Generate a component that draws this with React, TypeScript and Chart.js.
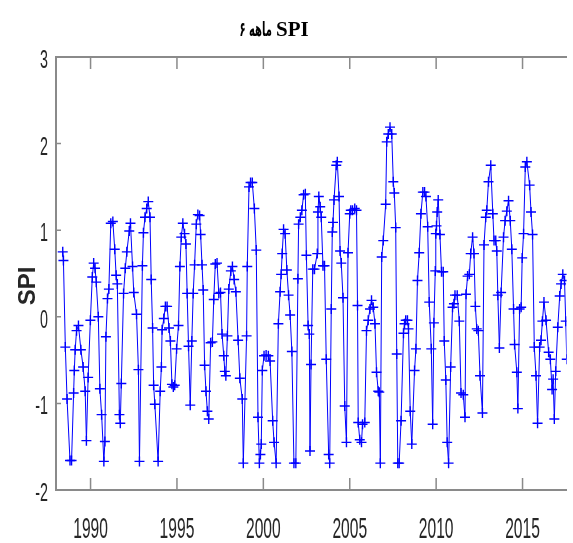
import React, { useEffect, useRef } from "react";
import { Chart, registerables } from "chart.js";

Chart.register(...registerables);

// ---- text ----
const TITLE_LATIN = "SPI";
const TITLE_PERSIAN = "۶ ماهه";
const Y_TITLE = "SPI";

// ---- axes ----
const X_TICKS = [1990, 1995, 2000, 2005, 2010, 2015];
const Y_TICKS = [-2, -1, 0, 1, 2, 3];
const X_MIN = 1988;
const X_MAX = 2017.55;
const Y_MIN = -2;
const Y_MAX = 3;

// ---- 6-month SPI series: [decimal year, SPI] ----
const spi1988to1995: [number, number][] = [
  [1988.39, 0.75], [1988.43, 0.65], [1988.54, -0.35], [1988.64, -0.95], [1988.81, -1.66], [1988.9, -1.66],
  [1989.02, -0.88], [1989.06, -0.62], [1989.11, -0.38], [1989.19, -0.16], [1989.3, -0.1], [1989.44, -0.38],
  [1989.57, -0.58], [1989.69, -0.86], [1989.76, -1.43], [1989.86, -0.7], [1989.99, -0.04], [1990.1, 0.46],
  [1990.18, 0.62], [1990.26, 0.56], [1990.33, 0.4], [1990.45, 0.0], [1990.54, -0.83], [1990.64, -1.13],
  [1990.77, -1.67], [1990.83, -1.44], [1990.89, -0.23], [1990.98, 0.21], [1991.06, 0.32], [1991.17, 1.08],
  [1991.29, 1.1], [1991.4, 0.78], [1991.48, 0.48], [1991.55, 0.38], [1991.67, -1.13], [1991.72, -1.23],
  [1991.78, -0.77], [1991.91, 0.27], [1992.01, 0.56], [1992.1, 0.75], [1992.24, 0.99], [1992.31, 1.08],
  [1992.43, 0.58], [1992.5, 0.28], [1992.66, 0.03], [1992.77, -0.61], [1992.83, -1.67], [1993.0, 0.59],
  [1993.06, 0.97], [1993.15, 1.15], [1993.25, 1.25], [1993.34, 1.33], [1993.44, 1.15], [1993.51, 0.43],
  [1993.59, -0.13], [1993.65, -0.79], [1993.72, -1.01], [1993.91, -1.67], [1994.03, -0.86], [1994.1, -0.58],
  [1994.14, -0.15], [1994.24, -0.02], [1994.33, 0.12], [1994.43, 0.12], [1994.54, -0.13], [1994.62, -0.28],
  [1994.71, -0.78], [1994.79, -0.81], [1994.87, -0.79], [1994.98, -0.37], [1995.09, -0.1], [1995.17, 0.58],
  [1995.25, 0.92], [1995.34, 1.08],
];

const spi1995to2002: [number, number][] = [
  [1995.44, 0.96], [1995.52, 0.84], [1995.59, 0.27], [1995.67, -0.34], [1995.77, -1.02], [1995.86, -0.28],
  [1995.94, 0.27], [1996.02, 0.6], [1996.12, 1.07], [1996.21, 1.18], [1996.31, 1.17], [1996.37, 0.95],
  [1996.45, 0.6], [1996.52, 0.31], [1996.6, -0.56], [1996.68, -0.86], [1996.76, -1.09], [1996.84, -1.18],
  [1996.95, -0.3], [1997.05, -0.29], [1997.13, 0.2], [1997.22, 0.61], [1997.32, 0.62], [1997.42, 0.27],
  [1997.52, 0.28], [1997.61, -0.2], [1997.71, -0.45], [1997.77, -0.63], [1997.83, -0.68], [1997.92, -0.22],
  [1998.0, 0.32], [1998.12, 0.53], [1998.21, 0.58], [1998.31, 0.43], [1998.41, 0.29], [1998.54, -0.27],
  [1998.64, -0.71], [1998.78, -0.95], [1998.84, -1.69], [1999.03, -0.22], [1999.07, 0.58], [1999.17, 1.5],
  [1999.26, 1.55], [1999.36, 1.55], [1999.48, 1.25], [1999.59, 0.77], [1999.69, -1.16], [1999.77, -1.69],
  [1999.83, -1.59], [1999.88, -1.47], [1999.94, -0.62], [2000.04, -0.45], [2000.16, -0.44], [2000.29, -0.45],
  [2000.39, -0.51], [2000.54, -1.2], [2000.62, -1.45], [2000.74, -1.69], [2000.87, -0.08], [2000.97, 0.29],
  [2001.03, 0.49], [2001.09, 0.73], [2001.17, 1.01], [2001.26, 0.96], [2001.36, 0.54], [2001.46, 0.25],
  [2001.55, 0.02], [2001.65, -0.4], [2001.77, -1.69], [2001.88, -1.69], [2002.0, 0.44], [2002.04, 1.07],
  [2002.14, 1.15], [2002.23, 1.23], [2002.33, 1.41], [2002.43, 1.42], [2002.49, 0.71], [2002.59, -0.1],
  [2002.66, -0.2],
];

const spi2002to2010: [number, number][] = [
  [2002.7, -1.55], [2002.76, -0.55], [2002.86, 0.55], [2002.96, 0.55], [2003.12, 0.73], [2003.16, 1.21],
  [2003.21, 1.39], [2003.29, 1.27], [2003.35, 1.15], [2003.45, 0.59], [2003.54, 0.59], [2003.64, -0.49],
  [2003.78, -1.59], [2003.84, -1.69], [2003.93, 0.09], [2003.99, 0.98], [2004.03, 1.09], [2004.09, 1.35],
  [2004.22, 1.75], [2004.28, 1.79], [2004.38, 1.39], [2004.44, 0.76], [2004.51, 0.62], [2004.61, 0.22],
  [2004.71, -1.03], [2004.81, -1.45], [2004.9, 0.74], [2005.0, 1.19], [2005.06, 1.23], [2005.16, 1.23],
  [2005.29, 1.25], [2005.39, 1.23], [2005.45, 0.13], [2005.49, -1.22], [2005.58, -1.42], [2005.68, -1.45],
  [2005.74, -1.24], [2005.87, -1.22], [2005.97, -0.16], [2006.07, -0.04], [2006.17, 0.09], [2006.26, 0.19],
  [2006.36, 0.11], [2006.46, -0.08], [2006.55, -0.64], [2006.65, -0.86], [2006.71, -0.87], [2006.77, -1.69],
  [2006.85, 0.69], [2006.94, 0.88], [2007.08, 1.3], [2007.14, 2.02], [2007.23, 2.11], [2007.33, 2.19],
  [2007.43, 2.11], [2007.52, 1.56], [2007.58, 1.43], [2007.66, 1.03], [2007.72, -0.43], [2007.78, -1.69],
  [2007.86, -1.69], [2007.97, -1.2], [2008.11, -0.19], [2008.17, -0.08], [2008.24, -0.04], [2008.34, -0.04],
  [2008.4, -0.14], [2008.5, -1.09], [2008.59, -1.47], [2008.75, -0.62], [2008.83, -0.37], [2008.92, 0.42],
  [2009.02, 0.74], [2009.12, 1.19], [2009.23, 1.44], [2009.33, 1.44], [2009.41, 1.39], [2009.51, 1.04],
  [2009.6, 0.17], [2009.72, -0.37], [2009.8, -1.24], [2009.87, -0.07], [2009.95, 0.53],
];

const spi2010to2017: [number, number][] = [
  [2009.98, 0.96], [2010.02, 1.05], [2010.06, 1.21], [2010.12, 1.35], [2010.22, 0.95], [2010.31, 0.52],
  [2010.41, 0.52], [2010.47, -0.28], [2010.56, -0.73], [2010.64, -1.45], [2010.72, -1.69], [2010.84, -0.58],
  [2010.95, 0.11], [2011.03, 0.15], [2011.09, 0.25], [2011.22, 0.25], [2011.34, -0.05], [2011.44, -0.88],
  [2011.57, -0.9], [2011.67, -1.16], [2011.73, 0.26], [2011.82, 0.47], [2011.92, 0.49], [2012.0, 0.73],
  [2012.11, 0.92], [2012.19, 0.73], [2012.27, 0.12], [2012.35, -0.14], [2012.44, -0.16], [2012.54, -0.68],
  [2012.68, -1.11], [2012.77, 0.83], [2012.87, 1.15], [2012.93, 1.23], [2013.03, 1.56], [2013.16, 1.75],
  [2013.28, 1.19], [2013.35, 0.88], [2013.45, 0.88], [2013.51, 0.76], [2013.57, 0.25], [2013.66, -0.36],
  [2013.76, 0.28], [2013.9, 0.92], [2013.99, 1.11], [2014.09, 1.22], [2014.19, 1.34], [2014.29, 1.11],
  [2014.38, 0.78], [2014.48, 0.09], [2014.54, -0.32], [2014.67, -0.64], [2014.73, -1.06], [2014.83, 0.09],
  [2014.92, 0.11], [2014.98, 0.68], [2015.06, 0.96], [2015.16, 1.73], [2015.25, 1.79], [2015.41, 1.52],
  [2015.49, 1.21], [2015.58, 0.95], [2015.68, -0.35], [2015.78, -0.68], [2015.87, -1.23], [2015.99, -0.35],
  [2016.07, -0.27], [2016.15, -0.05], [2016.24, 0.17], [2016.36, -0.04], [2016.51, -0.41], [2016.61, -0.49],
  [2016.71, -0.84], [2016.77, -0.72], [2016.84, -1.18], [2016.92, -0.63], [2017.04, -0.12], [2017.15, 0.24],
  [2017.23, 0.38], [2017.33, 0.49], [2017.43, 0.42], [2017.5, -0.05], [2017.56, -0.49], [2017.65, -0.55],
];

// ---- styles ----
const AXIS_GRAY = "#8a8a8a";
const LABEL_COLOR = "#262626";
const LINE_BLUE = "#0000ff";
const TICK_FAMILY = '"Liberation Sans", Arial, sans-serif';

function drawCondensed(ctx: any, text: string, x: number, y: number, sx: number, align: string) {
  ctx.save();
  ctx.translate(x, y);
  ctx.scale(sx, 1);
  ctx.textAlign = align;
  ctx.fillText(text, 0, 0);
  ctx.restore();
}

const decorPlugin = {
  id: "decor",
  afterDraw(chart: any) {
    const { ctx, chartArea, scales } = chart;
    const xs = scales.x;
    const ys = scales.y;
    ctx.save();
    // inward tick marks
    ctx.strokeStyle = AXIS_GRAY;
    ctx.lineWidth = 1.5;
    ctx.beginPath();
    for (const t of xs.ticks) {
      const px = xs.getPixelForValue(t.value);
      ctx.moveTo(px, chartArea.bottom);
      ctx.lineTo(px, chartArea.bottom - 12);
      ctx.moveTo(px, chartArea.top);
      ctx.lineTo(px, chartArea.top + 12);
    }
    for (const t of ys.ticks) {
      const py = ys.getPixelForValue(t.value);
      ctx.moveTo(chartArea.left, py);
      ctx.lineTo(chartArea.left + 5, py);
    }
    ctx.stroke();

    // condensed tick labels (positions from the scales)
    ctx.fillStyle = LABEL_COLOR;
    ctx.textBaseline = "alphabetic";
    ctx.font = `30px ${TICK_FAMILY}`;
    for (const t of xs.ticks) {
      drawCondensed(ctx, String(t.value), xs.getPixelForValue(t.value), 538, 0.52, "center");
    }
    ctx.font = `26px ${TICK_FAMILY}`;
    for (const t of ys.ticks) {
      drawCondensed(ctx, String(t.value), chartArea.left - 8, ys.getPixelForValue(t.value) + 11, 0.55, "right");
    }

    // title
    ctx.fillStyle = "#000";
    ctx.textBaseline = "alphabetic";
    ctx.font = 'bold 21px "Liberation Serif", "Times New Roman", serif';
    ctx.textAlign = "left";
    ctx.fillText(TITLE_LATIN, 276, 36);
    ctx.font = 'bold 20px "DejaVu Sans", sans-serif';
    drawCondensed(ctx, TITLE_PERSIAN, 272, 36, 0.5, "right");

    // y axis title
    ctx.translate(28, 286);
    ctx.rotate(-Math.PI / 2);
    ctx.font = 'bold 24px "Liberation Sans", Arial, sans-serif';
    ctx.textAlign = "center";
    ctx.textBaseline = "middle";
    ctx.fillStyle = "#262626";
    ctx.fillText(Y_TITLE, 0, 0);
    ctx.restore();
  },
};

export default function App() {
  const ref = useRef<HTMLCanvasElement>(null);

  useEffect(() => {
    if (!ref.current) return;
    const points = [...spi1988to1995, ...spi1995to2002, ...spi2002to2010, ...spi2010to2017].map(
      ([x, y]) => ({ x, y })
    );
    const chart = new Chart(ref.current, {
      type: "line",
      data: {
        datasets: [
          {
            data: points,
            borderColor: LINE_BLUE,
            borderWidth: 1,
            pointStyle: "cross",
            pointRadius: 5,
            pointBorderWidth: 1.4,
            pointBorderColor: LINE_BLUE,
            pointBackgroundColor: LINE_BLUE,
            tension: 0,
            fill: false,
          },
        ],
      },
      options: {
        animation: false,
        responsive: false,
        devicePixelRatio: 1,
        layout: { padding: { top: 57, left: 0, right: 0, bottom: 0 } },
        plugins: {
          legend: { display: false },
          title: { display: false },
          tooltip: { enabled: false },
        },
        scales: {
          x: {
            type: "linear",
            position: "bottom",
            min: X_MIN,
            max: X_MAX,
            afterBuildTicks: (s: any) => {
              s.ticks = X_TICKS.map((value) => ({ value }));
            },
            afterFit: (s: any) => {
              s.height = 53;
            },
            grid: { display: false, drawTicks: false },
            border: { display: true, color: AXIS_GRAY, width: 2 },
            ticks: { display: false, autoSkip: false, maxRotation: 0 },
          },
          x2: {
            type: "linear",
            axis: "x",
            position: "top",
            min: X_MIN,
            max: X_MAX,
            afterFit: (s: any) => {
              s.height = 0;
            },
            grid: { display: false, drawTicks: false },
            border: { display: true, color: AXIS_GRAY, width: 2 },
            ticks: { display: false },
          },
          y: {
            type: "linear",
            min: Y_MIN,
            max: Y_MAX,
            afterBuildTicks: (s: any) => {
              s.ticks = Y_TICKS.map((value) => ({ value }));
            },
            afterFit: (s: any) => {
              s.width = 56;
            },
            grid: { display: false, drawTicks: false },
            border: { display: true, color: AXIS_GRAY, width: 2 },
            ticks: { display: false },
          },
        },
      } as any,
      plugins: [decorPlugin],
    });
    return () => chart.destroy();
  }, []);

  return (
    <div style={{ position: "absolute", left: 0, top: 0, width: 573, height: 543, background: "#fff" }}>
      <canvas ref={ref} width={573} height={543} style={{ display: "block", width: 573, height: 543 }} />
    </div>
  );
}
